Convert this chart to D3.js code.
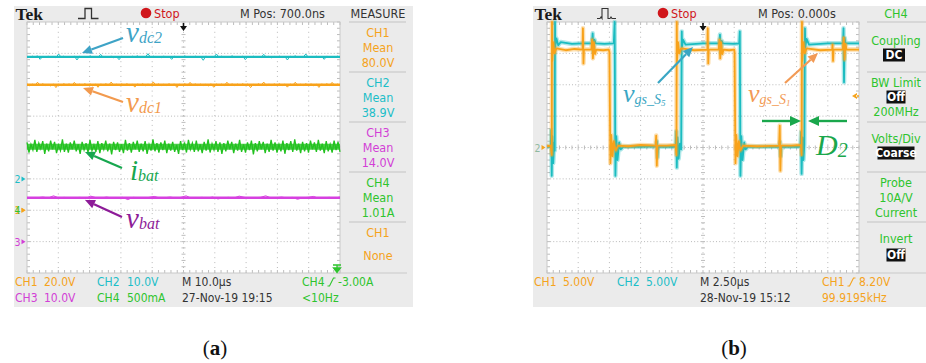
<!DOCTYPE html>
<html>
<head>
<meta charset="utf-8">
<script src="https://cdn.jsdelivr.net/npm/d3@7"></script>
<style>
  body { margin: 0; background: #fff; }
  svg { display: block; }
</style>
</head>
<body>
<svg id="chart" width="926" height="363"></svg>
<script>
// ---------- (a) steady-state DC measurement ----------
const chNames      = ["CH1", "CH2", "CH3", "CH4"];
const measMeans    = [80.0, 38.9, 14.0, 1.01];
const measUnits    = ["V", "V", "V", "A"];
const perDivA      = [20, 10, 10, 0.5];      // units per division
const groundDivA   = [-2, -1, -3, -2];       // ground marker, divisions from centre
const timePerDivA  = 10;                     // µs
const dateA        = "27-Nov-19 19:15";
const trigTextA    = ["CH4", "-3.00A", "<10Hz"];
const mPosA        = "700.0ns";

// ripple on each trace around its mean (channel units)
const rippleCH1 = [0.5,-0.6,0.4,-0.5,1.6,-0.4,0.6,-0.5,0.3,-0.7,0.5,-1.8,0.4,-0.5,0.6,-0.3,0.5,-0.6,1.5,-0.4,
  0.3,-0.5,0.6,-0.4,0.5,-0.7,0.4,-1.6,0.5,-0.3,0.6,-0.5,1.7,-0.4,0.3,-0.6,0.5,-0.4,0.6,-0.5,
  0.4,-1.5,0.5,-0.3,0.6,-0.6,0.4,-0.5,1.8,-0.4,0.5,-0.6,0.3,-0.5,0.6,-0.4,0.5,-1.7,0.4,-0.3,
  0.6,-0.5,1.5,-0.4,0.5,-0.6,0.4,-0.5,0.3,-0.7,0.6,-1.6,0.5,-0.4,0.4,-0.5,1.6,-0.3,0.5,-0.6,
  0.4,-0.5,0.6,-0.4,0.5,-1.8,0.3,-0.5,0.6,-0.4,1.7,-0.6,0.4,-0.5,0.5,-0.3,0.6,-0.5,0.4,-1.5,
  0.5,-0.4,1.6,-0.6,0.3,-0.5,0.6,-0.4,0.5,-0.6,0.4,-1.7,0.5,-0.3,0.6,-0.5,1.5,-0.4,0.4,-0.6];
const rippleCH2 = [0.1,-0.2,0.2,-0.1,0.3,-0.8,0.1,-0.2,0.2,-0.1,0.1,-0.3,0.9,-0.1,0.2,-0.2,0.1,-0.1,0.2,-1.0,
  0.2,-0.1,0.1,-0.2,0.3,-0.1,0.1,-0.2,0.8,-0.2,0.1,-0.1,0.2,-0.3,0.1,-0.9,0.2,-0.1,0.1,-0.2,
  0.2,-0.1,0.3,-0.2,0.1,-0.1,1.0,-0.2,0.2,-0.1,0.1,-0.3,0.2,-0.1,0.1,-0.8,0.2,-0.2,0.1,-0.1,
  0.3,-0.2,0.1,-0.1,0.2,-0.2,0.1,-1.1,0.2,-0.1,0.1,-0.2,0.9,-0.1,0.2,-0.2,0.1,-0.1,0.3,-0.2,
  0.1,-0.1,0.2,-0.9,0.1,-0.2,0.2,-0.1,0.1,-0.2,0.8,-0.1,0.2,-0.3,0.1,-0.1,0.2,-0.2,0.1,-1.0,
  0.2,-0.1,0.3,-0.2,0.1,-0.1,0.9,-0.2,0.1,-0.1,0.2,-0.3,0.1,-0.8,0.2,-0.1,0.1,-0.2,0.2,-0.1];
const rippleCH3 = [0.1,-0.2,0.0,0.2,-0.1,0.6,-0.1,0.1,-0.2,0.0,0.1,-0.3,0.5,0.0,-0.1,0.2,-0.1,0.0,0.1,-0.6,
  0.1,0.0,-0.2,0.1,0.4,-0.1,0.0,0.2,-0.1,0.1,0.6,-0.2,0.0,0.1,-0.1,0.2,-0.4,0.0,0.1,-0.1,
  0.5,0.1,-0.2,0.0,0.1,0.6,-0.1,0.0,0.2,-0.1,0.1,-0.5,0.0,0.1,0.4,-0.2,0.0,0.1,-0.1,0.2];
const rippleCH4 = [0.07,-0.09,0.04,-0.05,0.11,-0.08,0.06,-0.03,0.09,-0.11,0.05,-0.07,0.1,-0.04,0.08,-0.1,0.03,-0.06,0.12,-0.08,
  0.05,-0.09,0.07,-0.04,0.1,-0.07,0.04,-0.11,0.08,-0.05,0.06,-0.09,0.11,-0.06,0.03,-0.08,0.09,-0.1,0.06,-0.04,
  0.1,-0.07,0.05,-0.12,0.08,-0.05,0.07,-0.08,0.04,-0.1,0.11,-0.06,0.06,-0.09,0.08,-0.04,0.1,-0.08,0.05,-0.07,
  0.09,-0.11,0.04,-0.06,0.12,-0.07,0.06,-0.09,0.07,-0.05,0.1,-0.1,0.05,-0.06,0.08,-0.08,0.03,-0.11,0.09,-0.05,
  0.07,-0.09,0.11,-0.04,0.06,-0.08,0.1,-0.07,0.04,-0.1,0.08,-0.06,0.12,-0.09,0.05,-0.05,0.09,-0.08,0.07,-0.11,
  0.06,-0.07,0.1,-0.04,0.08,-0.1,0.05,-0.06,0.11,-0.08,0.04,-0.09,0.07,-0.05,0.1,-0.12,0.06,-0.07,0.09,-0.04,
  0.08,-0.1,0.05,-0.08,0.11,-0.06,0.07,-0.09,0.04,-0.07,0.1,-0.11,0.06,-0.05,0.09,-0.08,0.12,-0.06,0.05,-0.1,
  0.08,-0.07,0.06,-0.09,0.1,-0.04,0.07,-0.08,0.11,-0.06,0.05,-0.1,0.09,-0.07,0.04,-0.09,0.1,-0.05,0.08,-0.08];

// ---------- (b) gate signals ----------
const chNamesB     = ["CH1", "CH2"];
const perDivB      = [5, 5];                 // V/div
const timePerDivB  = 2.5;                    // µs
const trigLevelB   = 8.20;                   // V on CH1
const freqB        = "99.9195kHz";
const dateB        = "28-Nov-19 15:12";
const mPosB        = "0.000s";
// [time µs, volts]
const gateS1 = [[0,0.2],[0.3,0.3],[0.38,-1.2],[0.4,20],[0.42,13.8],[0.5,16.8],[0.6,15.0],[0.75,15.8],
  [1.5,15.5],[2.2,15.7],[2.85,15.6],[2.88,19.0],[2.92,13.4],[2.96,15.6],
  [3.55,15.6],[3.62,17.2],[3.68,14.2],[3.75,16.8],[3.85,14.9],[3.95,15.6],
  [4.5,15.5],[4.95,15.6],[5.0,15.2],[5.08,-2.5],[5.15,2.0],[5.25,-1.4],[5.35,1.0],[5.5,-0.5],[5.7,0.3],
  [6.5,0.2],[7.5,0.4],[8.7,0.3],[8.75,1.9],[8.8,-2.9],[8.85,0.3],
  [9.6,0.3],[10.3,0.4],[10.37,-1.2],[10.4,20],[10.42,13.8],[10.5,16.8],[10.6,15.0],[10.75,15.8],
  [11.8,15.5],[12.85,15.6],[12.88,19.0],[12.92,13.4],[12.96,15.6],
  [13.75,15.6],[13.82,17.2],[13.88,14.2],[13.95,16.8],[14.05,14.9],[14.15,15.6],
  [14.6,15.5],[15.0,15.6],[15.03,15.2],[15.1,-2.5],[15.17,2.0],[15.27,-1.4],[15.37,1.0],[15.5,-0.5],[15.7,0.3],
  [16.8,0.2],[18.6,0.3],[18.65,3.5],[18.7,-3.7],[18.75,0.3],
  [19.6,0.3],[20.35,0.4],[20.4,-1.2],[20.43,20],[20.45,13.8],[20.55,16.8],[20.65,15.0],[20.8,15.8],
  [21.9,15.5],[22.85,15.6],[22.88,16.4],[22.92,13.8],[22.96,15.6],
  [23.7,15.6],[23.78,17.5],[23.84,14.0],[23.92,16.5],[24.0,15.6],[25,15.6]];
const gateS5 = [[0,0.1],[0.3,0.2],[0.34,2.8],[0.38,-4.5],[0.43,1.8],[0.5,-2.5],[0.58,0.8],[0.62,-0.5],[0.64,20],[0.66,16.0],[0.75,17.4],[0.9,16.3],[1.1,16.8],
  [2.0,16.5],[2.9,16.6],[3.6,16.6],[3.66,18.2],[3.72,15.2],[3.8,17.2],[3.9,16.6],
  [4.6,16.5],[5.35,16.6],[5.42,20],[5.48,-4.5],[5.55,1.8],[5.65,-2.0],[5.78,0.8],[5.9,-0.3],[6.1,0.1],
  [7.5,0.1],[8.75,0.2],[8.8,1.0],[8.85,-1.6],[8.9,0.1],
  [10.3,0.1],[10.36,2.6],[10.4,-3.2],[10.46,1.6],[10.55,-1.8],[10.65,0.6],[10.75,-0.3],[10.8,18.5],[10.82,16.0],[10.9,17.2],[11.1,16.4],
  [12.5,16.6],[13.8,16.6],[13.86,18.0],[13.92,15.0],[14.0,17.0],[14.1,16.6],
  [15.0,16.5],[15.4,16.6],[15.45,18.5],[15.5,-4.5],[15.57,1.8],[15.67,-2.0],[15.8,0.8],[15.9,-0.3],[16.1,0.1],
  [18.6,0.1],[18.67,0.9],[18.72,-1.4],[18.78,0.1],
  [20.3,0.1],[20.36,2.5],[20.4,-4.2],[20.47,1.6],[20.55,-2.0],[20.62,0.5],[20.67,19.0],[20.7,16.0],[20.8,17.3],[21.0,16.4],
  [22.5,16.6],[23.72,16.6],[23.76,19.0],[23.8,10.4],[23.85,17.5],[23.92,16.6],[25,16.6]];

// ---------- styling ----------
const COL   = { CH1: "#f5a31c", CH2: "#1cbec8", CH3: "#d23fd6", CH4: "#2ec42e" };
const TRACE = { CH1: "#f8a21a", CH2: "#1bbcc0", CH3: "#d640e0", CH4: "#22c21f" };
const FONT  = '"Liberation Sans Narrow","DejaVu Sans Condensed","Arial Narrow",sans-serif';
const SERIF = '"Liberation Serif","DejaVu Serif",serif';
const GRAY  = "#ebebeb";

const svg = d3.select("#chart");

const fmt3 = d3.format(".3r");
function fmtScale(v, unit) {
  if (unit === "A" && v < 1) return d3.format("d")(v * 1000) + "mA";
  return fmt3(v) + unit;
}

function txt(g, x, y, s, o = {}) {
  return g.append("text").attr("x", x).attr("y", y).text(s)
    .attr("font-family", o.family || FONT).attr("font-size", o.size || 12)
    .attr("fill", o.fill || "#333").attr("text-anchor", o.anchor || "start")
    .attr("dominant-baseline", "central")
    .attr("font-weight", o.weight || "normal");
}

function slopeIcon(g, x, y, c) {
  g.append("path").attr("d", `M${x},${y + 4} h2 l4,-8 h2`)
    .attr("fill", "none").attr("stroke", c).attr("stroke-width", 1.1);
}

function arrow(g, x1, y1, x2, y2, c, w = 2.2, head = 10) {
  const a = Math.atan2(y2 - y1, x2 - x1);
  const bx = x2 - head * Math.cos(a), by = y2 - head * Math.sin(a);
  g.append("line").attr("x1", x1).attr("y1", y1).attr("x2", bx).attr("y2", by)
    .attr("stroke", c).attr("stroke-width", w);
  const hw = head * 0.45;
  g.append("polygon").attr("fill", c).attr("points", [
    [x2, y2],
    [bx + hw * Math.sin(a), by - hw * Math.cos(a)],
    [bx - hw * Math.sin(a), by + hw * Math.cos(a)]
  ].map(p => p.join(",")).join(" "));
}

// scope screen: frame, plot area, graticule
function screen(f) {
  const g = svg.append("g");
  g.append("rect").attr("x", f.x0).attr("y", 6).attr("width", f.x1 - f.x0).attr("height", 301).attr("fill", GRAY);
  g.append("rect").attr("x", f.px).attr("y", f.py).attr("width", f.pw).attr("height", f.ph).attr("fill", "#fff");
  const xd = d3.scaleLinear([0, 10], [f.px, f.px + f.pw]);
  const yd = d3.scaleLinear([-4, 4], [f.py + f.ph, f.py]);
  const grid = g.append("g").attr("stroke", "#b9b9b9").attr("stroke-width", 1);
  d3.range(1, 10).forEach(i => grid.append("line")
    .attr("x1", xd(i)).attr("x2", xd(i)).attr("y1", f.py).attr("y2", f.py + f.ph)
    .attr("stroke-dasharray", "1,3.9"));
  d3.range(-3, 4).forEach(j => grid.append("line")
    .attr("y1", yd(j)).attr("y2", yd(j)).attr("x1", f.px).attr("x2", f.px + f.pw)
    .attr("stroke-dasharray", "1,2.13"));
  // minor ticks on centre lines and border
  const mt = g.append("g").attr("stroke", "#bdbdbd").attr("stroke-width", 1);
  d3.range(0, 10.01, 0.2).forEach(t => {
    const x = xd(t);
    mt.append("line").attr("x1", x).attr("x2", x).attr("y1", yd(0) - 2).attr("y2", yd(0) + 2);
    mt.append("line").attr("x1", x).attr("x2", x).attr("y1", f.py).attr("y2", f.py + 3);
    mt.append("line").attr("x1", x).attr("x2", x).attr("y1", f.py + f.ph - 3).attr("y2", f.py + f.ph);
  });
  d3.range(-4, 4.01, 0.2).forEach(t => {
    const y = yd(t);
    mt.append("line").attr("y1", y).attr("y2", y).attr("x1", xd(5) - 2).attr("x2", xd(5) + 2);
    mt.append("line").attr("y1", y).attr("y2", y).attr("x1", f.px).attr("x2", f.px + 3);
    mt.append("line").attr("y1", y).attr("y2", y).attr("x1", f.px + f.pw - 3).attr("x2", f.px + f.pw);
  });
  g.append("rect").attr("x", f.px).attr("y", f.py).attr("width", f.pw).attr("height", f.ph)
    .attr("fill", "none").attr("stroke", "#c9c9c9").attr("stroke-width", 1);
  // bottom rule under plot and sidebar
  g.append("line").attr("x1", f.px + f.pw).attr("x2", f.sideR).attr("y1", f.py + f.ph).attr("y2", f.py + f.ph)
    .attr("stroke", "#c9c9c9");
  // trigger position marker at top centre
  const cx = xd(5);
  g.append("path").attr("d", `M${cx - 3.5},${f.py + 4} L${cx + 3.5},${f.py + 4} L${cx},${f.py + 9} Z M${cx - 0.8},${f.py + 1} h1.6 v4 h-1.6 Z`)
    .attr("fill", "#111");
  // header
  txt(g, f.x0 + 1.5, 13.5, "Tek", { family: SERIF, size: 17.5, weight: "bold", fill: "#1a1a1a" });
  g.append("circle").attr("cx", f.dot).attr("cy", 13).attr("r", 5.3).attr("fill", "#d0161b");
  txt(g, f.dot + 8, 13, "Stop", { size: 12.5, fill: "#d0161b" });
  return { g, xd, yd };
}

function sep(g, x1, x2, y) {
  g.append("line").attr("x1", x1).attr("x2", x2).attr("y1", y).attr("y2", y)
    .attr("stroke", "#c4c4c4").attr("stroke-width", 1.2);
}

function boxed(g, cx, cy, s, w) {
  g.append("rect").attr("x", cx - w / 2).attr("y", cy - 6.5).attr("width", w).attr("height", 13).attr("fill", "#111");
  txt(g, cx, cy, s, { fill: "#fff", anchor: "middle", size: 12, weight: "bold" });
}

// ================= panel (a) =================
const A = screen({ x0: 14, x1: 413, px: 27, py: 22, pw: 313, ph: 251, sideR: 407, dot: 146 });
{
  const g = A.g;
  const xt = d3.scaleLinear([0, 10 * timePerDivA], [A.xd(0), A.xd(10)]);
  const yCh = i => v => A.yd(v / perDivA[i] + groundDivA[i]);
  // pulse-shape acquisition icon
  g.append("path").attr("d", "M78,18.5 h7 v-10 h6.5 v10 h7").attr("fill", "none").attr("stroke", "#333").attr("stroke-width", 1.3);
  txt(g, 240, 13, "M Pos: " + mPosA, { size: 12.5 });
  txt(g, 378, 13, "MEASURE", { size: 12.5, anchor: "middle" });

  // traces: mean + ripple, drawn from the measured values
  const ripples = [rippleCH1, rippleCH2, rippleCH3, rippleCH4];
  const order = [1, 0, 3, 2];
  order.forEach(i => {
    const r = ripples[i];
    const y = yCh(i);
    const xs = d3.scaleLinear([0, r.length - 1], [0, 10 * timePerDivA]);
    const line = d3.line().x((d, k) => xt(xs(k))).y(d => y(measMeans[i] + d));
    const c = TRACE[chNames[i]];
    // core of the trace at its mean
    g.append("line").attr("x1", A.xd(0)).attr("x2", A.xd(10))
      .attr("y1", y(measMeans[i])).attr("y2", y(measMeans[i]))
      .attr("stroke", c).attr("stroke-width", i === 3 ? 6 : 2.4).attr("opacity", i === 3 ? 0.8 : 1);
    g.append("path").attr("d", line(r)).attr("fill", "none").attr("stroke", c)
      .attr("stroke-width", i === 3 ? 1.3 : 1.0);
  });

  // ground markers on the left edge
  const mk = (i, c, cArrow) => {
    const y = A.yd(groundDivA[i]);
    txt(g, 17.5, y, chNames[i].slice(2), { size: 10.5, fill: c, anchor: "middle" });
    g.append("path").attr("d", `M21.5,${y - 2.5} L25.5,${y} L21.5,${y + 2.5} Z`).attr("fill", cArrow || c);
  };
  mk(0, COL.CH1);
  mk(3, COL.CH4, COL.CH1);
  mk(1, COL.CH2);
  mk(2, COL.CH3);

  // trigger level marker (off-screen below) on CH4
  g.append("path").attr("d", "M333,265 h8 M337,265 v3 M333.5,268 h7 L337,272.5 Z")
    .attr("stroke", COL.CH4).attr("stroke-width", 1.3).attr("fill", COL.CH4);

  // measurement sidebar
  sep(g, 349, 406, 22);
  chNames.forEach((c, i) => {
    const y0 = 32 + i * 50;
    txt(g, 378, y0, c, { fill: COL[c], anchor: "middle", size: 12.5 });
    txt(g, 378, y0 + 15, "Mean", { fill: COL[c], anchor: "middle", size: 12.5 });
    txt(g, 378, y0 + 30, fmt3(measMeans[i]) + measUnits[i], { fill: COL[c], anchor: "middle", size: 12.5 });
    sep(g, 349, 406, y0 + 40);
  });
  txt(g, 378, 232, "CH1", { fill: COL.CH1, anchor: "middle", size: 12.5 });
  txt(g, 378, 255, "None", { fill: COL.CH1, anchor: "middle", size: 12.5 });

  // bottom status rows
  const r1 = 282, r2 = 298;
  txt(g, 15, r1, "CH1", { fill: COL.CH1 });  txt(g, 44, r1, fmtScale(perDivA[0], measUnits[0]), { fill: COL.CH1 });
  txt(g, 97, r1, "CH2", { fill: COL.CH2 });  txt(g, 127, r1, fmtScale(perDivA[1], measUnits[1]), { fill: COL.CH2 });
  txt(g, 15, r2, "CH3", { fill: COL.CH3 });  txt(g, 44, r2, fmtScale(perDivA[2], measUnits[2]), { fill: COL.CH3 });
  txt(g, 97, r2, "CH4", { fill: COL.CH4 });  txt(g, 127, r2, fmtScale(perDivA[3], measUnits[3]), { fill: COL.CH4 });
  txt(g, 182, r1, "M " + fmt3(timePerDivA) + "µs", { fill: "#333" });
  txt(g, 182, r2, dateA, { fill: "#333" });
  txt(g, 302, r1, trigTextA[0], { fill: COL.CH4 });
  slopeIcon(g, 327.5, r1, COL.CH4);
  txt(g, 338, r1, trigTextA[1], { fill: COL.CH4 });
  txt(g, 302, r2, trigTextA[2], { fill: COL.CH4 });

  // annotations
  const lab = (x, y, main, sub, c) => {
    const t = g.append("text").attr("x", x).attr("y", y).attr("font-family", SERIF)
      .attr("font-style", "italic").attr("fill", c);
    t.append("tspan").attr("font-size", 29).text(main);
    t.append("tspan").attr("font-size", 16).attr("dy", 1).text(sub);
  };
  arrow(g, 123, 38, 82, 53, "#3ea3c6");
  lab(126, 42, "v", "dc2", "#3ea3c6");
  arrow(g, 123, 102, 83, 88, "#f29a4e");
  lab(126, 112, "v", "dc1", "#f29a4e");
  arrow(g, 122, 168, 85, 152, "#17a74f");
  lab(130, 180, "i", "bat", "#17a74f");
  arrow(g, 122, 217, 85, 200, "#8d1b98");
  lab(126, 228, "v", "bat", "#8d1b98");
}

// ================= panel (b) =================
const B = screen({ x0: 533, x1: 926, px: 547, py: 22, pw: 312, ph: 251, sideR: 926, dot: 663 });
{
  const g = B.g;
  const xt = d3.scaleLinear([0, 10 * timePerDivB], [B.xd(0), B.xd(10)]);
  const yV = i => v => Math.max(B.yd(4), Math.min(B.yd(-4), B.yd(v / perDivB[i])));
  g.append("path").attr("d", "M597,18.5 h3 l1,-1.5 l1,1.5 v-10 h6 v10 h2 l1,-1.5 l1,1.5 h4")
    .attr("fill", "none").attr("stroke", "#333").attr("stroke-width", 1.1);
  txt(g, 758, 13, "M Pos: " + mPosB, { size: 12.5 });
  txt(g, 896, 13, "CH4", { fill: COL.CH4, anchor: "middle", size: 12.5 });

  const draw = (data, i, c) => {
    const y = yV(i);
    const line = d3.line().x(d => xt(d[0])).y(d => y(d[1]));
    g.append("path").attr("d", line(data)).attr("fill", "none").attr("stroke", c)
      .attr("stroke-width", 4.5).attr("opacity", 0.35).attr("stroke-linejoin", "round");
    g.append("path").attr("d", line(data)).attr("fill", "none").attr("stroke", c)
      .attr("stroke-width", 1.8).attr("stroke-linejoin", "round");
  };
  draw(gateS5, 1, TRACE.CH2);
  draw(gateS1, 0, TRACE.CH1);

  // ground marker and trigger level
  const yg = B.yd(0);
  txt(g, 537.5, yg, "2", { size: 10.5, fill: "#8fb9a0", anchor: "middle" });
  g.append("path").attr("d", `M541.5,${yg - 2.5} L545.5,${yg} L541.5,${yg + 2.5} Z`).attr("fill", COL.CH1);
  const yt = B.yd(trigLevelB / perDivB[0]);
  g.append("path").attr("d", `M857,${yt - 3} L852,${yt} L857,${yt + 3} Z M856,${yt - 0.7} h3 v1.4 h-3 Z`).attr("fill", COL.CH1);

  // sidebar (CH4 menu)
  const cx = 896;
  sep(g, 867, 926, 22);
  txt(g, cx, 40, "Coupling", { fill: COL.CH4, anchor: "middle", size: 12.5 });
  boxed(g, cx - 2, 55, "DC", 22);
  sep(g, 867, 926, 72);
  txt(g, cx, 82, "BW Limit", { fill: COL.CH4, anchor: "middle", size: 12.5 });
  boxed(g, cx, 97, "Off", 19);
  txt(g, cx, 111, "200MHz", { fill: COL.CH4, anchor: "middle", size: 12.5 });
  sep(g, 867, 926, 122);
  txt(g, cx, 138, "Volts/Div", { fill: COL.CH4, anchor: "middle", size: 12.5 });
  boxed(g, cx, 153, "Coarse", 37);
  sep(g, 867, 926, 172);
  txt(g, cx, 182, "Probe", { fill: COL.CH4, anchor: "middle", size: 12.5 });
  txt(g, cx, 197, "10A/V", { fill: COL.CH4, anchor: "middle", size: 12.5 });
  txt(g, cx, 212, "Current", { fill: COL.CH4, anchor: "middle", size: 12.5 });
  sep(g, 867, 926, 222);
  txt(g, cx, 238, "Invert", { fill: COL.CH4, anchor: "middle", size: 12.5 });
  boxed(g, cx, 255, "Off", 19);

  // bottom status rows
  const r1 = 282, r2 = 298;
  txt(g, 534, r1, chNamesB[0], { fill: COL.CH1 }); txt(g, 563, r1, fmtScale(perDivB[0], "V"), { fill: COL.CH1 });
  txt(g, 617, r1, chNamesB[1], { fill: COL.CH2 }); txt(g, 646, r1, fmtScale(perDivB[1], "V"), { fill: COL.CH2 });
  txt(g, 700, r1, "M " + fmt3(timePerDivB) + "µs", { fill: "#333" });
  txt(g, 700, r2, dateB, { fill: "#333" });
  txt(g, 822, r1, "CH1", { fill: COL.CH1 });
  slopeIcon(g, 847.5, r1, COL.CH1);
  txt(g, 859, r1, fmt3(trigLevelB) + "V", { fill: COL.CH1 });
  txt(g, 822, r2, freqB, { fill: COL.CH1 });

  // annotations
  const lab = (x, y, sub, subsub, c) => {
    const t = g.append("text").attr("x", x).attr("y", y).attr("font-family", SERIF)
      .attr("font-style", "italic").attr("fill", c);
    t.append("tspan").attr("font-size", 26).text("v");
    t.append("tspan").attr("font-size", 14).attr("dy", 2).text(sub);
    t.append("tspan").attr("font-size", 9).attr("dy", 2).text(subsub);
  };
  arrow(g, 658, 83, 693, 47, "#3aa6c4");
  lab(623, 102, "gs_S", "5", "#3aa6c4");
  arrow(g, 785, 83, 818, 53, "#f29a55");
  lab(748, 102, "gs_S", "1", "#f29a55");
  arrow(g, 762, 121, 801, 121, "#1aa74c", 2.4, 11);
  arrow(g, 847, 121, 808, 121, "#1aa74c", 2.4, 11);
  const d2 = g.append("text").attr("x", 816).attr("y", 155).attr("font-family", SERIF)
    .attr("font-style", "italic").attr("fill", "#1aa74c");
  d2.append("tspan").attr("font-size", 30).text("D");
  d2.append("tspan").attr("font-size", 20).attr("dy", 2).text("2");
}

// captions
[["a", 215], ["b", 734]].forEach(([s, x]) => {
  const t = svg.append("text").attr("x", x).attr("y", 355).attr("text-anchor", "middle")
    .attr("font-family", SERIF).attr("font-size", 21).attr("fill", "#111");
  t.append("tspan").text("(");
  t.append("tspan").attr("font-weight", "bold").text(s);
  t.append("tspan").text(")");
});
</script>
</body>
</html>
